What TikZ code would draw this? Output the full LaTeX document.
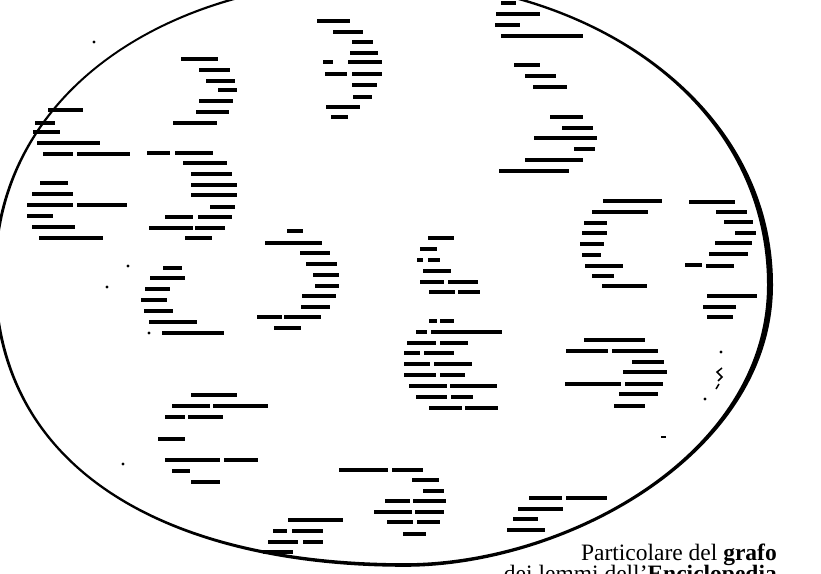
\documentclass[tikz,border=0pt]{standalone}
\usepackage{fontspec}
\setmainfont{Liberation Serif}
\begin{document}
\begin{tikzpicture}[x=1pt,y=-1pt,
  blob/.style={line width=3.7pt,line cap=butt},
  speck/.style={fill=black},
  caption/.style={anchor=base east,inner sep=0pt,font=\fontsize{23.5}{24}\selectfont}]
\useasboundingbox (0,0) rectangle (821,573);
\clip (0,0) rectangle (821,573);
\fill[white] (0,0) rectangle (821,573);
% the oval (thicker on the right)
\fill[even odd rule]
 (378,-21.3) .. controls (594,-21.3) and (773,105) .. (773,285)
  .. controls (773,455) and (565,566.8) .. (405,566.8)
  .. controls (180,566.8) and (-6.5,478) .. (-6.5,275)
  .. controls (-6.5,92) and (167,-21.3) .. (378,-21.3) -- cycle
 (378,-18.7) .. controls (594,-18.7) and (767,105) .. (767,285)
  .. controls (767,455) and (565,563.2) .. (405,563.2)
  .. controls (180,563.2) and (-3.5,478) .. (-3.5,275)
  .. controls (-3.5,92) and (167,-18.7) .. (378,-18.7) -- cycle;
% blurred lemma labels
\foreach \a/\b/\y in {
 % cluster top middle
 317/350/21, 333/363/32, 352/373/42, 350/378/53, 323/333/62, 348/382/62,
 325/347/74, 352/382/74, 352/377/85, 353/372/97, 326/360/107, 331/348/117,
 % cluster "5"
 181/218/59, 199/230/70, 206/235/81, 218/237/90, 199/233/101, 196/229/112, 173/217/123,
 % left cluster
 48/83/110, 35/55/123, 33/60/132, 37/100/143, 43/73/154, 77/130/154,
 40/68/183, 32/73/194, 27/73/205, 77/127/205, 27/53/216, 32/75/227, 39/103/238,
 % cluster left middle
 147/170/153, 175/213/153, 183/227/163, 191/232/174, 191/237/185, 191/237/195,
 210/235/207, 165/193/217, 198/232/217, 149/193/228, 195/225/228, 185/212/238,
 % cluster left lower
 163/182/268, 150/185/278, 145/170/289, 141/167/300, 144/173/311, 149/197/322, 162/224/333,
 % cluster centre left
 287/303/231, 265/322/243, 300/330/253, 306/337/264, 313/339/275, 315/339/286,
 302/336/296, 301/330/307, 257/282/317, 284/321/317, 274/301/328,
 % cluster top right
 501/516/3, 496/540/14, 495/520/25, 501/583/36, 514/540/65, 525/556/76, 533/567/87,
 550/583/117, 562/593/128, 534/597/138, 574/595/149, 525/583/160, 499/569/171,
 % cluster "C"
 603/662/201, 592/648/212, 584/607/223, 582/607/233, 580/604/244, 582/601/255,
 585/623/266, 592/614/276, 602/647/286,
 % cluster far right
 689/735/202, 716/747/212, 724/753/222, 735/756/233, 715/752/243, 709/748/254,
 685/702/265, 706/734/266, 707/757/296, 703/736/307, 707/733/317,
 % cluster "6"
 428/454/238, 420/437/249, 417/423/260, 428/440/260, 423/451/271,
 420/444/282, 448/478/282, 429/455/292, 458/480/292,
 429/437/321, 440/454/321, 416/427/332, 431/502/332, 407/436/343, 440/468/343,
 404/420/353, 424/454/353, 404/430/364, 434/472/364, 404/436/375, 440/465/375,
 409/447/386, 450/497/386, 416/447/397, 451/473/397, 429/462/408, 465/498/408,
 % cluster "3" right
 584/645/340, 566/608/351, 612/658/351, 632/664/362, 623/667/372,
 565/621/384, 625/663/384, 619/658/394, 614/645/406,
 % cluster lower left
 191/237/395, 172/210/406, 213/268/406, 165/185/417, 188/223/417, 158/185/439,
 165/220/460, 224/258/460, 172/190/471, 191/220/482,
 % cluster bottom centre
 339/388/470, 392/423/470, 412/439/480, 423/444/491, 385/410/501, 413/446/501,
 374/412/512, 415/444/512, 387/413/522, 417/440/522, 403/426/534,
 % cluster bottom left
 288/343/520, 273/287/531, 292/323/531, 268/298/542, 303/323/542, 263/293/552,
 % cluster bottom right
 529/562/498, 566/607/498, 518/563/509, 513/538/519, 507/545/530}
 \draw[blob] (\a,\y) -- (\b,\y);
% specks
\foreach \x/\y in {94/42, 128/266, 107/287, 149/333, 123/464, 721/352, 705/399}
 \fill[speck] (\x,\y) circle (1.6pt);
\draw[line width=1.6pt] (661,437) -- (666,437);
\draw[line width=1.5pt] (722,368) -- (717,372) -- (722,377) -- (718,381);
\draw[line width=1.5pt] (719,384) -- (716,389);
% caption
\node[caption] (cap1) at (777,560) {Particolare del \textbf{grafo}};
\node[caption] (cap2) at (777,581) {dei lemmi dell'\textbf{Enciclopedia}};
\end{tikzpicture}
\end{document}
